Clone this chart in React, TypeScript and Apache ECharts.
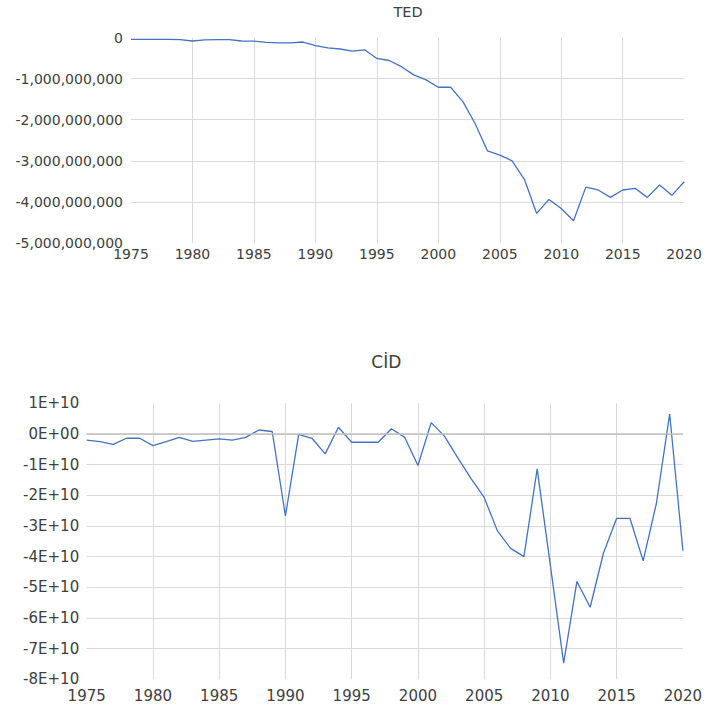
import React, { useEffect, useRef } from "react";
import * as echarts from "echarts";

const YEARS = [
  1975, 1976, 1977, 1978, 1979, 1980, 1981, 1982, 1983, 1984,
  1985, 1986, 1987, 1988, 1989, 1990, 1991, 1992, 1993, 1994,
  1995, 1996, 1997, 1998, 1999, 2000, 2001, 2002, 2003, 2004,
  2005, 2006, 2007, 2008, 2009, 2010, 2011, 2012, 2013, 2014,
  2015, 2016, 2017, 2018, 2019, 2020,
];

// TED values
const TED = [
  -0.045e9, -0.045e9, -0.045e9, -0.045e9, -0.05e9, -0.085e9, -0.06e9, -0.05e9, -0.05e9, -0.085e9,
  -0.09e9, -0.12e9, -0.13e9, -0.13e9, -0.11e9, -0.2e9, -0.25e9, -0.28e9, -0.33e9, -0.3e9,
  -0.51e9, -0.56e9, -0.71e9, -0.91e9, -1.03e9, -1.21e9, -1.21e9, -1.56e9, -2.1e9, -2.76e9,
  -2.86e9, -3.0e9, -3.45e9, -4.28e9, -3.94e9, -4.16e9, -4.46e9, -3.64e9, -3.71e9, -3.89e9,
  -3.71e9, -3.67e9, -3.89e9, -3.59e9, -3.84e9, -3.51e9,
];

// CİD values
const CID = [
  -0.2e10, -0.25e10, -0.34e10, -0.14e10, -0.14e10, -0.38e10, -0.25e10, -0.11e10, -0.24e10, -0.2e10,
  -0.16e10, -0.2e10, -0.11e10, 0.13e10, 0.08e10, -2.67e10, -0.01e10, -0.14e10, -0.65e10, 0.22e10,
  -0.27e10, -0.27e10, -0.27e10, 0.17e10, -0.11e10, -1.03e10, 0.37e10, -0.07e10, -0.77e10, -1.45e10,
  -2.07e10, -3.16e10, -3.73e10, -4.0e10, -1.14e10, -4.3e10, -7.47e10, -4.81e10, -5.65e10, -3.89e10,
  -2.75e10, -2.75e10, -4.14e10, -2.26e10, 0.65e10, -3.81e10,
];

const TITLES = ["TED", "CİD"];
const X_MIN = 1975;
const X_MAX = 2020;
const X_STEP = 5;
const TED_AXIS = { min: -5e9, max: 0, interval: 1e9 };
const CID_AXIS = { min: -8e10, max: 1e10, interval: 1e10 };

const FONT = "DejaVu Sans";
const TEXT = "#404040";
const GRID_COLOR = "#d9d9d9";
const LINE_COLOR = "#4472c4";

function formatComma(v: number): string {
  return Math.round(v).toLocaleString("en-US");
}

function formatSci(v: number): string {
  if (v === 0) return "0E+00";
  const m = Math.round(v / 1e10);
  return `${m}E+10`;
}

export default function App() {
  const ref = useRef<HTMLDivElement>(null);

  useEffect(() => {
    if (!ref.current) return;
    const chart = echarts.init(ref.current, undefined, { renderer: "svg" });

    const splitLine = {
      show: true,
      showMinLine: false,
      showMaxLine: false,
      lineStyle: { color: GRID_COLOR, width: 1 },
    };

    const xAxisBase = (fontSize: number, margin: number, gridIndex: number) => ({
      type: "value" as const,
      gridIndex,
      min: X_MIN,
      max: X_MAX,
      interval: X_STEP,
      axisLine: { show: false },
      axisTick: { show: false },
      splitLine,
      axisLabel: {
        color: TEXT,
        fontFamily: FONT,
        fontSize,
        margin,
        formatter: (v: number) => String(v),
      },
    });

    chart.setOption({
      animation: false,
      grid: [
        { left: 131, right: 18, top: 37.5, height: 205.5 },
        { left: 86.7, right: 19, top: 403.3, height: 276 },
      ],
      xAxis: [xAxisBase(14, 4, 0), xAxisBase(15, 9, 1)],
      yAxis: [
        {
          type: "value",
          gridIndex: 0,
          ...TED_AXIS,
          axisLine: { show: false },
          axisTick: { show: false },
          splitLine,
          axisLabel: {
            color: TEXT,
            fontFamily: FONT,
            fontSize: 14,
            margin: 8,
            formatter: formatComma,
          },
        },
        {
          type: "value",
          gridIndex: 1,
          ...CID_AXIS,
          axisLine: { show: false },
          axisTick: { show: false },
          splitLine,
          axisLabel: {
            color: TEXT,
            fontFamily: FONT,
            fontSize: 15,
            margin: 7.5,
            formatter: formatSci,
          },
        },
      ],
      graphic: [
        {
          type: "text",
          x: 408,
          y: 11.5,
          style: {
            text: TITLES[0],
            fill: TEXT,
            font: `14.5px "${FONT}"`,
            align: "center",
            verticalAlign: "middle",
          },
        },
        {
          type: "text",
          x: 386.3,
          y: 362,
          style: {
            text: TITLES[1],
            fill: TEXT,
            font: `17px "${FONT}"`,
            align: "center",
            verticalAlign: "middle",
          },
        },
      ],
      series: [
        {
          type: "line",
          xAxisIndex: 0,
          yAxisIndex: 0,
          data: YEARS.map((y, i) => [y, TED[i]]),
          showSymbol: false,
          symbol: "none",
          lineStyle: { color: LINE_COLOR, width: 1.3 },
        },
        {
          type: "line",
          xAxisIndex: 1,
          yAxisIndex: 1,
          data: [],
          markLine: {
            silent: true,
            symbol: ["none", "none"],
            label: { show: false },
            lineStyle: { color: "#bfbfbf", width: 1.5, type: "solid" },
            data: [{ yAxis: 0 }],
          },
        },
        {
          type: "line",
          xAxisIndex: 1,
          yAxisIndex: 1,
          data: YEARS.map((y, i) => [y, CID[i]]),
          showSymbol: false,
          symbol: "none",
          lineStyle: { color: LINE_COLOR, width: 1.3 },
        },
      ],
    });

    return () => chart.dispose();
  }, []);

  return (
    <div
      ref={ref}
      style={{ position: "fixed", left: 0, top: 0, width: 705, height: 711, background: "#fff" }}
    />
  );
}
